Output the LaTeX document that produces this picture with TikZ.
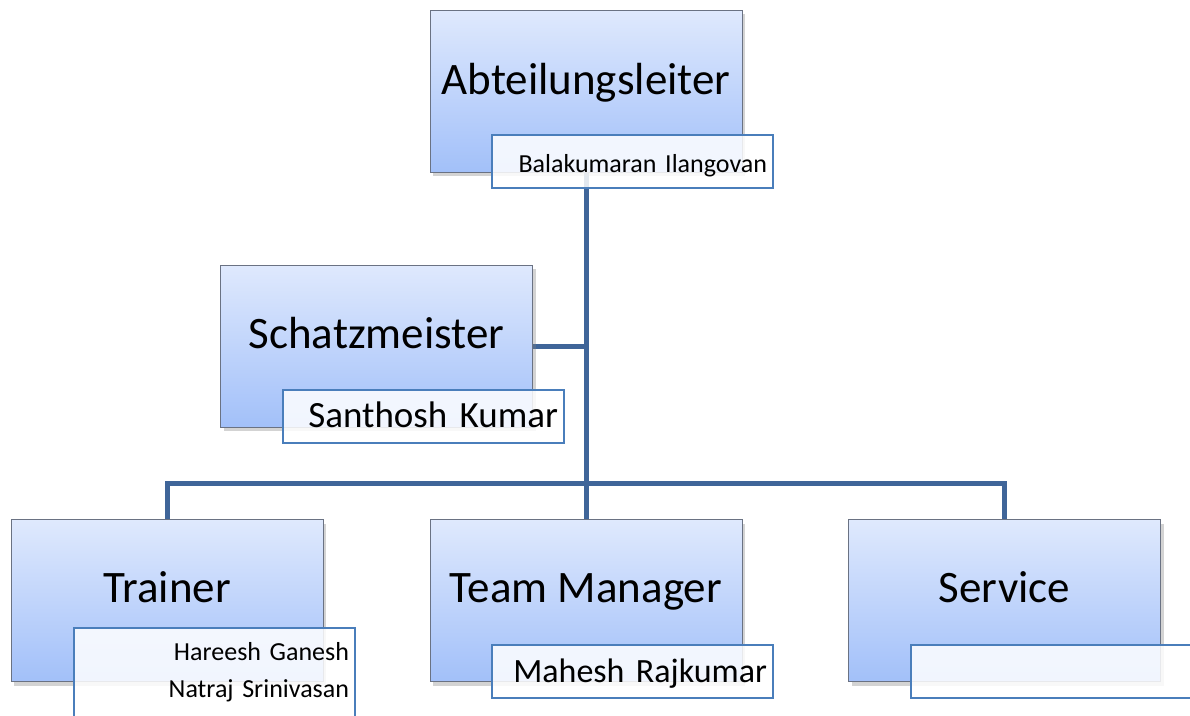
\documentclass[tikz,border=0pt]{standalone}
\usepackage{fontspec}
\setmainfont{Carlito}
\usetikzlibrary{shadows,backgrounds}
\definecolor{boxoben}{HTML}{DFE9FD}
\definecolor{boxunten}{HTML}{A2C0F9}
\definecolor{boxrand}{HTML}{6A7283}
\definecolor{namerand}{HTML}{4A7EBB}
\definecolor{linienfarbe}{HTML}{3F6599}

\begin{document}
\begin{tikzpicture}[x=1pt,y=-1pt,
posten/.style ={rectangle, draw=boxrand, thin, top color=boxoben, bottom color=boxunten, minimum width=312pt, minimum height=162pt, drop shadow={shadow xshift=3pt, shadow yshift=-4pt, opacity=.35}},
titel/.style ={anchor=base, inner sep=0pt, font=\fontsize{45}{50}\selectfont},
namebox/.style ={rectangle, draw=namerand, line width=1.5pt, fill=white, fill opacity=.85, text opacity=1, minimum width=281pt, minimum height=53pt, text width=269pt, align=right, inner xsep=6pt, font=\fontsize{26}{30}\selectfont},
namezeile/.style ={namebox, text height=24pt, text depth=3pt},
verbindung/.style ={draw=linienfarbe, line width=5pt}
]
\useasboundingbox (0,0) rectangle (1190,715);
\clip (0,0) rectangle (1190,715);
% Posten
\node[posten] (AL) at (586,91) {};
\node[posten] (SM) at (376.5,346) {};
\node[posten] (TR) at (167,600.5) {};
\node[posten] (TM) at (586,600.5) {};
\node[posten] (SV) at (1004.5,600.5) {};
\node[titel] (ALt) at (586,94) {Abteilungsleiter};
\node[titel] (SMt) at (376.5,348) {Schatzmeister};
\node[titel] (TRt) at (167,602) {Trainer};
\node[titel] (TMt) at (586,602) {Team Manager};
\node[titel] (SVt) at (1004.5,602) {Service};
% Namen
\node[namezeile] (ALn) at (632.5,161.5) {Balakumaran Ilangovan};
\node[namezeile, font=\fontsize{37}{40}\selectfont] (SMn) at (423.5,416.5) {Santhosh Kumar};
\node[namebox, anchor=north, inner ysep=15pt, font=\fontsize{26}{37}\selectfont] (TRn) at (214.5,627) {Hareesh Ganesh\\Natraj Srinivasan};
\node[namezeile, font=\fontsize{34}{38}\selectfont] (TMn) at (632.5,671.5) {Mahesh Rajkumar};
\node[namezeile] (SVn) at (1051.5,671.5) {};
% Linien
\coordinate (mitte) at (586,483);
\begin{scope}[on background layer]
\draw[verbindung] (AL.south) -- (TM.north);
\draw[verbindung] (SM.east) -- (SM.east -| AL.south);
\draw[verbindung] (TR.north) |- (mitte) -| (SV.north);
\end{scope}
\end{tikzpicture}
\end{document}
